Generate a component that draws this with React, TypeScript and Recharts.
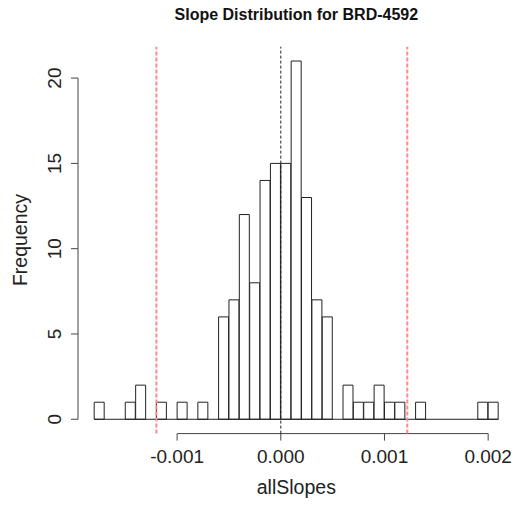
import React from "react"
import {
  ComposedChart,
  Bar,
  XAxis,
  YAxis,
  ReferenceLine,
} from "recharts"

// histogram bins: left edges (width 0.0001) and counts
const binStarts = [
  -0.0018, -0.0017, -0.0016, -0.0015, -0.0014, -0.0013, -0.0012, -0.0011, -0.001, -0.0009,
  -0.0008, -0.0007, -0.0006, -0.0005, -0.0004, -0.0003, -0.0002, -0.0001, 0.0, 0.0001,
  0.0002, 0.0003, 0.0004, 0.0005, 0.0006, 0.0007, 0.0008, 0.0009, 0.001, 0.0011,
  0.0012, 0.0013, 0.0014, 0.0015, 0.0016, 0.0017, 0.0018, 0.0019, 0.002,
]
const counts = [
  1, 0, 0, 1, 2, 0, 1, 0, 1, 0,
  1, 0, 6, 7, 12, 8, 14, 15, 15, 21,
  13, 7, 6, 0, 2, 1, 1, 2, 1, 1,
  0, 1, 0, 0, 0, 0, 0, 1, 1,
]
const binWidth = 0.0001
const xTicks = [-0.001, 0, 0.001, 0.002]
const yTicks = [0, 5, 10, 15, 20]
const cutoffs = [-0.0012, 0.00122] // red dashed lines
const centerLine = 0

const data = binStarts.map((b, i) => ({
  bin: b.toFixed(4),
  mid: b + binWidth / 2,
  count: counts[i],
}))

// R-style axis limits: data range extended by 4%
const histMin = binStarts[0]
const histMax = binStarts[binStarts.length - 1] + binWidth
const xPad = (histMax - histMin) * 0.04
const xMin = histMin - xPad
const xMax = histMax + xPad
const yMax = Math.max(...counts)
const yMin = -yMax * 0.04
const yTop = yMax + yMax * 0.04

const W = 518
const H = 506
const Y_AXIS_W = 40
const X_AXIS_H = 30
const margin = { top: 46.7, right: 3.3, bottom: 72.4 - X_AXIS_H, left: 78 - Y_AXIS_W }
const plotLeft = 78
const plotW = W - plotLeft - margin.right
const plotH = H - margin.top - margin.bottom - X_AXIS_H
const pxPerCount = plotH / (yTop - yMin)
const binPadL = ((histMin - xMin) / (xMax - xMin)) * plotW
const binPadR = ((xMax - histMax) / (xMax - xMin)) * plotW

const font = "'Liberation Sans', Arial, Helvetica, sans-serif"
const axisColor = "#444"

// rotated tick label + the piece of axis line up to the next tick (R draws the
// axis line only between the first and last tick)
const YTick = (props: any) => {
  const { x, y, payload, index } = props
  const lineX = plotLeft
  const step = index < yTicks.length - 1 ? (yTicks[index + 1] - yTicks[index]) * pxPerCount : 0
  return (
    <g>
      {step > 0 && <line x1={lineX} x2={lineX} y1={y} y2={y - step} stroke={axisColor} />}
      <text
        x={x}
        y={y}
        transform={`rotate(-90, ${x}, ${y})`}
        textAnchor="middle"
        fontSize={19}
        fontFamily={font}
        fill="#222"
      >
        {payload.value}
      </text>
    </g>
  )
}

const textBox = (center: number, top: number, size: number, bold = false): React.CSSProperties => ({
  position: "absolute",
  left: center - 200,
  width: 400,
  top,
  textAlign: "center",
  fontFamily: font,
  fontWeight: bold ? "bold" : "normal",
  fontSize: size,
  lineHeight: `${size}px`,
  whiteSpace: "nowrap",
  color: bold ? "#111" : "#222",
})

export default function App() {
  return (
    <div style={{ position: "absolute", left: 0, top: 0, width: W, height: H, background: "#fff" }}>
      <div style={textBox(plotLeft + plotW / 2, 6.5, 16, true)}>Slope Distribution for BRD-4592</div>
      <div style={textBox(plotLeft + plotW / 2, 477.5, 19.5)}>allSlopes</div>
      <div
        style={{
          position: "absolute",
          left: 20,
          top: 240,
          transform: "translate(-50%, -50%) rotate(-90deg)",
          fontFamily: font,
          fontSize: 19.5,
          lineHeight: "19px",
          whiteSpace: "nowrap",
          color: "#222",
        }}
      >
        Frequency
      </div>
      <ComposedChart width={W} height={H} data={data} margin={margin} barCategoryGap={0} barGap={0}>
        <XAxis
          xAxisId="val"
          dataKey="mid"
          type="number"
          domain={[xMin, xMax]}
          allowDataOverflow
          ticks={xTicks}
          tickFormatter={(v: number) => v.toFixed(3)}
          axisLine={false}
          tickLine={{ stroke: axisColor }}
          tickSize={7}
          tickMargin={9}
          height={X_AXIS_H}
          tick={{ fontSize: 19, fontFamily: font, fill: "#222" }}
          interval={0}
        />
        <XAxis
          xAxisId="bins"
          dataKey="bin"
          type="category"
          hide
          height={0}
          padding={{ left: binPadL, right: binPadR }}
        />
        <YAxis
          type="number"
          domain={[yMin, yTop]}
          allowDataOverflow
          ticks={yTicks}
          axisLine={false}
          tickLine={{ stroke: axisColor }}
          tickSize={7}
          tickMargin={10}
          width={Y_AXIS_W}
          tick={<YTick />}
          interval={0}
        />
        <Bar
          xAxisId="bins"
          dataKey="count"
          fill="#fff"
          stroke="#222"
          strokeWidth={1}
          isAnimationActive={false}
        />
        {/* baseline under the histogram (zero-count bins) */}
        <ReferenceLine
          key="baseline"
          xAxisId="val"
          segment={[{ x: histMin, y: 0 }, { x: histMax, y: 0 }]}
          stroke="#222"
          ifOverflow="visible"
        />
        {/* R-style x axis line spanning first to last tick */}
        <ReferenceLine
          key="x-axis-line"
          xAxisId="val"
          segment={[{ x: xTicks[0], y: yMin }, { x: xTicks[xTicks.length - 1], y: yMin }]}
          stroke={axisColor}
          ifOverflow="visible"
        />
        {cutoffs.map((c) => (
          <ReferenceLine
            key={`cut-${c}`}
            xAxisId="val"
            x={c}
            stroke="#ff8a8a"
            strokeWidth={2}
            strokeDasharray="4 2"
            ifOverflow="visible"
          />
        ))}
        <ReferenceLine
          key="center"
          xAxisId="val"
          x={centerLine}
          stroke="#222"
          strokeDasharray="3 2"
          ifOverflow="visible"
        />
      </ComposedChart>
    </div>
  )
}
